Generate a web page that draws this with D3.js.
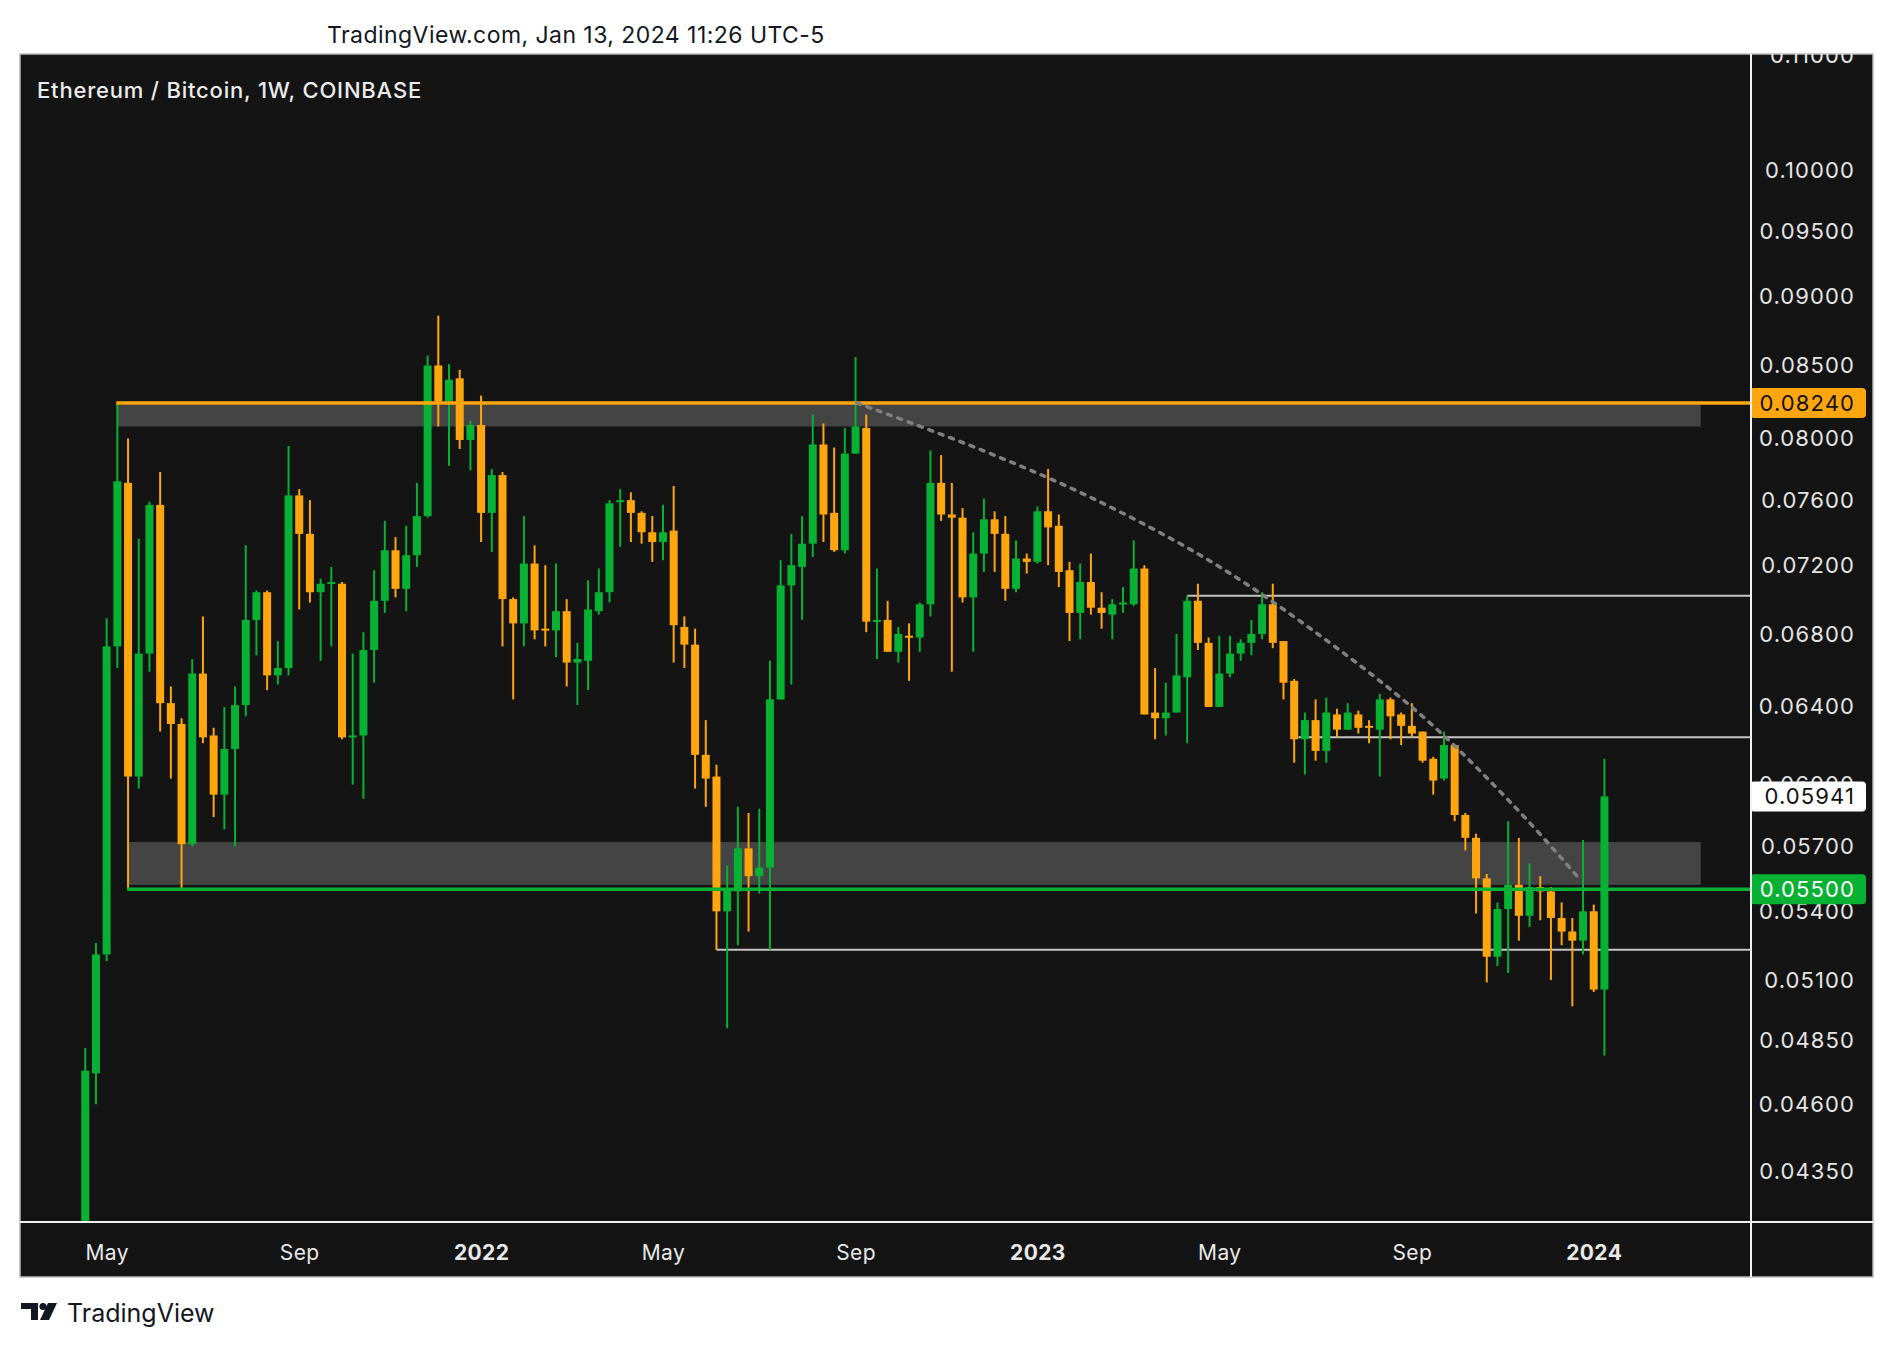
<!DOCTYPE html>
<html>
<head>
<meta charset="utf-8">
<script src="https://cdn.jsdelivr.net/npm/d3@7"></script>
<style>
  html, body { margin: 0; padding: 0; background: #ffffff; }
  svg { display: block; font-family: Inter, "Noto Sans", sans-serif; }
</style>
</head>
<body>
<svg id="chart" width="1894" height="1348"></svg>
<script>
// weekly ETH/BTC candles, first bar = week of 2021-04-19
const firstWeek = new Date(Date.UTC(2021, 3, 19))

const opens = [
  0.0386,0.0472,0.0521,0.0673,0.0771,0.0604,0.0669,0.0757,0.0642,0.0631,
  0.0571,0.0658,0.0625,0.0595,0.0618,0.0641,0.0688,0.0704,0.0657,0.0661,
  0.0763,0.0739,0.0704,0.0709,0.0709,0.0624,0.0625,0.0671,0.0699,0.0729,
  0.0706,0.0726,0.0750,0.0850,0.0825,0.0841,0.0799,0.0809,0.0752,0.0776,
  0.0700,0.0686,0.0721,0.0683,0.0682,0.0693,0.0664,0.0665,0.0693,0.0704,
  0.0759,0.0760,0.0752,0.0740,0.0734,0.0741,0.0684,0.0674,0.0615,0.0604,
  0.0540,0.0549,0.0569,0.0556,0.0560,0.0644,0.0708,0.0719,0.0733,0.0796,
  0.0752,0.0729,0.0790,0.0807,0.0687,0.0688,0.0670,0.0679,0.0678,0.0697,
  0.0771,0.0751,0.0749,0.0701,0.0727,0.0748,0.0739,0.0706,0.0724,0.0722,
  0.0753,0.0744,0.0717,0.0692,0.0710,0.0695,0.0691,0.0697,0.0697,0.0718,
  0.0637,0.0634,0.0637,0.0656,0.0699,0.0675,0.0640,0.0658,0.0669,0.0675,
  0.0680,0.0697,0.0676,0.0654,0.0623,0.0633,0.0617,0.0636,0.0628,0.0636,
  0.0630,0.0628,0.0644,0.0636,0.0630,0.0627,0.0613,0.0603,0.0620,0.0585,
  0.0574,0.0555,0.0520,0.0541,0.0552,0.0538,0.0551,0.0549,0.0537,0.0531,
  0.0527,0.0540,0.0506
]
const highs = [
  0.0482,0.0526,0.0689,0.0824,0.0800,0.0736,0.0759,0.0778,0.0651,0.0634,
  0.0666,0.0690,0.0629,0.0640,0.0651,0.0732,0.0705,0.0705,0.0676,0.0795,
  0.0767,0.0760,0.0712,0.0719,0.0710,0.0669,0.0681,0.0717,0.0747,0.0737,
  0.0744,0.0771,0.0857,0.0886,0.0851,0.0847,0.0812,0.0829,0.0780,0.0778,
  0.0701,0.0750,0.0732,0.0720,0.0721,0.0700,0.0675,0.0711,0.0718,0.0760,
  0.0767,0.0765,0.0753,0.0750,0.0757,0.0769,0.0690,0.0683,0.0633,0.0610,
  0.0561,0.0589,0.0586,0.0588,0.0665,0.0723,0.0739,0.0750,0.0816,0.0810,
  0.0794,0.0807,0.0856,0.0816,0.0718,0.0699,0.0684,0.0686,0.0698,0.0792,
  0.0789,0.0771,0.0755,0.0740,0.0761,0.0753,0.0750,0.0735,0.0727,0.0756,
  0.0780,0.0751,0.0722,0.0721,0.0727,0.0704,0.0700,0.0707,0.0735,0.0720,
  0.0661,0.0653,0.0680,0.0702,0.0709,0.0678,0.0679,0.0679,0.0677,0.0688,
  0.0704,0.0709,0.0676,0.0655,0.0637,0.0644,0.0645,0.0639,0.0642,0.0638,
  0.0633,0.0647,0.0645,0.0637,0.0642,0.0627,0.0614,0.0627,0.0620,0.0586,
  0.0576,0.0557,0.0544,0.0582,0.0574,0.0562,0.0556,0.0551,0.0544,0.0537,
  0.0573,0.0543,0.0613
]
const lows = [
  0.0378,0.0460,0.0518,0.0661,0.0550,0.0598,0.0659,0.0627,0.0603,0.0550,
  0.0570,0.0621,0.0584,0.0578,0.0570,0.0635,0.0668,0.0649,0.0652,0.0657,
  0.0694,0.0698,0.0665,0.0673,0.0623,0.0600,0.0593,0.0653,0.0692,0.0701,
  0.0693,0.0719,0.0749,0.0808,0.0782,0.0793,0.0779,0.0734,0.0728,0.0673,
  0.0644,0.0673,0.0677,0.0673,0.0667,0.0651,0.0641,0.0649,0.0691,0.0698,
  0.0731,0.0734,0.0733,0.0722,0.0723,0.0664,0.0661,0.0598,0.0589,0.0523,
  0.0490,0.0525,0.0531,0.0548,0.0523,0.0644,0.0652,0.0688,0.0725,0.0734,
  0.0728,0.0727,0.0790,0.0681,0.0666,0.0670,0.0664,0.0654,0.0670,0.0690,
  0.0747,0.0659,0.0698,0.0670,0.0716,0.0716,0.0699,0.0704,0.0715,0.0721,
  0.0720,0.0707,0.0676,0.0677,0.0691,0.0683,0.0677,0.0692,0.0696,0.0636,
  0.0623,0.0625,0.0637,0.0621,0.0671,0.0640,0.0640,0.0656,0.0665,0.0668,
  0.0677,0.0672,0.0644,0.0611,0.0605,0.0612,0.0611,0.0624,0.0628,0.0626,
  0.0621,0.0604,0.0623,0.0620,0.0624,0.0611,0.0595,0.0602,0.0582,0.0568,
  0.0539,0.0509,0.0516,0.0513,0.0527,0.0533,0.0536,0.0510,0.0525,0.0499,
  0.0521,0.0505,0.0479
]
const closes = [
  0.0473,0.0521,0.0673,0.0772,0.0604,0.0669,0.0757,0.0642,0.0631,0.0571,
  0.0658,0.0624,0.0595,0.0618,0.0641,0.0688,0.0704,0.0657,0.0661,0.0763,
  0.0739,0.0704,0.0709,0.0710,0.0624,0.0625,0.0671,0.0699,0.0729,0.0706,
  0.0726,0.0750,0.0850,0.0825,0.0840,0.0799,0.0809,0.0752,0.0776,0.0700,
  0.0686,0.0721,0.0682,0.0682,0.0693,0.0664,0.0666,0.0694,0.0704,0.0758,
  0.0760,0.0752,0.0740,0.0734,0.0740,0.0685,0.0674,0.0615,0.0603,0.0540,
  0.0550,0.0569,0.0556,0.0560,0.0644,0.0708,0.0720,0.0733,0.0796,0.0751,
  0.0729,0.0790,0.0808,0.0687,0.0688,0.0670,0.0680,0.0678,0.0697,0.0771,
  0.0751,0.0749,0.0701,0.0727,0.0748,0.0739,0.0706,0.0724,0.0722,0.0753,
  0.0743,0.0716,0.0692,0.0710,0.0695,0.0692,0.0697,0.0698,0.0718,0.0636,
  0.0634,0.0637,0.0657,0.0699,0.0675,0.0640,0.0658,0.0669,0.0675,0.0680,
  0.0697,0.0675,0.0653,0.0623,0.0633,0.0617,0.0637,0.0628,0.0637,0.0629,
  0.0629,0.0644,0.0635,0.0630,0.0626,0.0612,0.0602,0.0620,0.0585,0.0574,
  0.0555,0.0520,0.0541,0.0552,0.0538,0.0551,0.0549,0.0537,0.0531,0.0527,
  0.0540,0.0506,0.05941
]

// price scale labels
const priceTicks = [0.11, 0.10, 0.095, 0.09, 0.085, 0.08, 0.076, 0.072, 0.068, 0.064,
                    0.06, 0.057, 0.054, 0.051, 0.0485, 0.046, 0.0435]
const tickMonths = { 4: 'May', 8: 'Sep' }

// drawings on the chart (bar index + price)
const resistance = { from: 3, level: 0.0824 }
const support = { from: 4, level: 0.0550 }
const zones = [
  { from: 3, to: 151, lo: 0.0808, hi: 0.0823 },
  { from: 4, to: 151, lo: 0.0552, hi: 0.0572 }
]
const thinLines = [
  { from: 103, level: 0.0702 },
  { from: 113.4, level: 0.0624 },
  { from: 59, level: 0.0523 }
]
const arcIdx = [72.1, 83.9, 94.2, 105.0, 114.3, 125.0, 133.8, 139.8]
const arcPrice = [0.0824, 0.0792, 0.0761, 0.0723, 0.0684, 0.0635, 0.0588, 0.0554]

const green = '#07b133'
const orange = '#ffa60f'

let candles = opens.map((o, i) => ({
  i: i,
  date: d3.utcMonday.offset(firstWeek, i),
  o: o, h: highs[i], l: lows[i], c: closes[i]
}))

const frameLeft = 20, frameRight = 1873, frameTop = 54, plotBottom = 1222, frameBottom = 1277, axisX = 1751

let svg = d3.select('#chart')

let x = d3.scaleLinear().domain([-6.1, 155.7]).range([frameLeft, axisX])
let y = d3.scaleLog().domain([0.04171, 0.11012]).range([plotBottom, frameTop])

let defs = svg.append('defs')
defs.append('clipPath').attr('id', 'plotClip')
    .append('rect').attr('x', frameLeft).attr('y', frameTop)
    .attr('width', axisX - frameLeft).attr('height', plotBottom - frameTop)
defs.append('clipPath').attr('id', 'axisClip')
    .append('rect').attr('x', axisX).attr('y', frameTop)
    .attr('width', frameRight - axisX).attr('height', plotBottom - frameTop)

// header
svg.append('text')
   .attr('x', 327).attr('y', 43)
   .attr('font-size', 23).attr('letter-spacing', 0.45).attr('fill', '#131722')
   .text('TradingView.com, Jan 13, 2024 11:26 UTC-5')

// frame
svg.append('rect')
   .attr('x', frameLeft).attr('y', frameTop)
   .attr('width', frameRight - frameLeft).attr('height', frameBottom - frameTop)
   .attr('fill', '#141414')
   .attr('stroke', '#b6b9c0').attr('stroke-width', 1.5)

svg.append('text')
   .attr('x', 37).attr('y', 98)
   .attr('font-size', 22).attr('letter-spacing', 0.8)
   .attr('font-weight', 500).attr('fill', '#ececec')
   .text('Ethereum / Bitcoin, 1W, COINBASE')

let plot = svg.append('g').attr('clip-path', 'url(#plotClip)')

plot.selectAll('rect.zone')
    .data(zones)
    .enter()
    .append('rect')
    .attr('class', 'zone')
    .attr('x', (z) => x(z.from))
    .attr('width', (z) => x(z.to) - x(z.from))
    .attr('y', (z) => y(z.hi))
    .attr('height', (z) => y(z.lo) - y(z.hi))
    .attr('fill', '#444444')

plot.selectAll('line.thin')
    .data(thinLines)
    .enter()
    .append('line')
    .attr('class', 'thin')
    .attr('x1', (d) => x(d.from)).attr('x2', axisX)
    .attr('y1', (d) => y(d.level)).attr('y2', (d) => y(d.level))
    .attr('stroke', '#c4c4c4').attr('stroke-width', 2)

// candles
let bars = plot.selectAll('g.candle')
               .data(candles)
               .enter()
               .append('g')
               .attr('class', 'candle')
               .attr('fill', (d) => d.c >= d.o ? green : orange)
               .attr('stroke', (d) => d.c >= d.o ? green : orange)

bars.append('line')
    .attr('x1', (d) => x(d.i)).attr('x2', (d) => x(d.i))
    .attr('y1', (d) => y(d.h)).attr('y2', (d) => y(d.l))
    .attr('stroke-width', 2)

bars.append('rect')
    .attr('x', (d) => x(d.i) - 4)
    .attr('width', 8)
    .attr('y', (d) => y(Math.max(d.o, d.c)))
    .attr('height', (d) => Math.max(2, Math.abs(y(d.o) - y(d.c))))
    .attr('stroke', 'none')

// support / resistance
plot.append('line')
    .attr('x1', x(resistance.from) - 1).attr('x2', axisX)
    .attr('y1', y(resistance.level)).attr('y2', y(resistance.level))
    .attr('stroke', orange).attr('stroke-width', 3.5)
plot.append('line')
    .attr('x1', x(support.from) - 1).attr('x2', axisX)
    .attr('y1', y(support.level)).attr('y2', y(support.level))
    .attr('stroke', green).attr('stroke-width', 3.5)

// dashed arc
let arcLine = d3.line()
                .x((d, k) => x(arcIdx[k]))
                .y((d, k) => y(arcPrice[k]))
                .curve(d3.curveCatmullRom)
plot.append('path')
    .attr('d', arcLine(arcIdx))
    .attr('fill', 'none')
    .attr('stroke', '#808080').attr('stroke-width', 3.5)
    .attr('stroke-linecap', 'round')
    .attr('stroke-dasharray', '4 7')

// price axis
let yAxis = d3.axisRight(y)
              .tickValues(priceTicks)
              .tickSize(0)
              .tickFormat(d3.format('.5f'))
let yAxisG = svg.append('g')
                .attr('clip-path', 'url(#axisClip)')
                .append('g')
                .attr('transform', 'translate(' + axisX + ',0)')
                .call(yAxis)
yAxisG.select('.domain').remove()
yAxisG.selectAll('text')
      .attr('x', 104).attr('text-anchor', 'end')
      .attr('font-family', 'Inter, sans-serif').attr('font-size', 22)
      .attr('letter-spacing', 1.1)
      .attr('fill', '#e4e4e4')

// price labels
let lastClose = closes[closes.length - 1]
let badges = [
  { v: resistance.level, bg: orange, fg: '#111111' },
  { v: lastClose, bg: '#ffffff', fg: '#111111' },
  { v: support.level, bg: green, fg: '#ffffff' }
]
let badge = svg.selectAll('g.badge')
               .data(badges)
               .enter()
               .append('g')
               .attr('class', 'badge')
               .attr('transform', (b) => 'translate(0,' + y(b.v) + ')')
badge.append('rect')
     .attr('x', axisX - 1).attr('y', -15)
     .attr('width', 116).attr('height', 30)
     .attr('rx', 4)
     .attr('fill', (b) => b.bg)
badge.append('text')
     .attr('x', 1855).attr('dy', '0.36em')
     .attr('text-anchor', 'end')
     .attr('font-size', 22).attr('letter-spacing', 1.1)
     .attr('fill', (b) => b.fg)
     .text((b) => d3.format('.5f')(b.v))

// time axis
let timeTicks = candles.filter((d, k) => {
  if (k === 0) return false
  let m = d.date.getUTCMonth()
  return m !== candles[k - 1].date.getUTCMonth() && (m === 0 || tickMonths[m])
})
let xAxis = d3.axisBottom(x)
              .tickValues(timeTicks.map((d) => d.i))
              .tickSize(0)
              .tickFormat((v) => {
                let d = candles[v].date
                return d.getUTCMonth() === 0 ? d.getUTCFullYear() : tickMonths[d.getUTCMonth()]
              })
let xAxisG = svg.append('g')
                .attr('transform', 'translate(0,' + plotBottom + ')')
                .call(xAxis)
xAxisG.select('.domain').remove()
xAxisG.selectAll('text')
      .attr('y', 30).attr('dy', '0.36em')
      .attr('font-family', 'Inter, sans-serif').attr('font-size', 21)
      .attr('letter-spacing', 0.4)
      .attr('fill', '#e8e8e8')
      .attr('font-weight', (v) => candles[v].date.getUTCMonth() === 0 ? 700 : 400)

// separators
svg.append('line')
   .attr('x1', axisX).attr('x2', axisX).attr('y1', frameTop).attr('y2', frameBottom)
   .attr('stroke', '#f2f2f2').attr('stroke-width', 2)
svg.append('line')
   .attr('x1', frameLeft).attr('x2', frameRight).attr('y1', plotBottom).attr('y2', plotBottom)
   .attr('stroke', '#f2f2f2').attr('stroke-width', 2)

// footer logo
let logo = svg.append('g').attr('fill', '#131722')
logo.append('path').attr('d', 'M21,1303 H38 V1320 H31 V1309 H21 Z')
logo.append('circle').attr('cx', 43).attr('cy', 1306.5).attr('r', 3.6)
logo.append('path').attr('d', 'M48,1303 H57 L49,1320 H40 Z')
logo.append('text')
    .attr('x', 67).attr('y', 1322)
    .attr('font-size', 25)
    .text('TradingView')
</script>
</body>
</html>
